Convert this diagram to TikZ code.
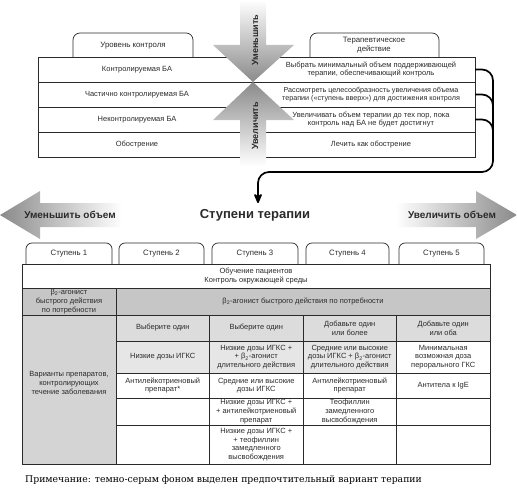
\documentclass[tikz,border=0pt]{standalone}
\usepackage{fontspec}
\setmainfont{Liberation Sans}
\newfontfamily\notefont{DejaVu Serif}
\usetikzlibrary{arrows.meta}
\definecolor{rowB}{HTML}{C6C6C6}
\definecolor{varc}{HTML}{D4D4D4}
\definecolor{hdrc}{HTML}{DCDCDC}
\definecolor{prefc}{HTML}{E6E6E6}
\definecolor{ink}{HTML}{2A2A2A}
\definecolor{shd}{HTML}{8A8A8A}
\begin{document}
\begin{tikzpicture}[x=1pt,y=-1pt,
  txt/.style={font=\fontsize{7.5}{8.7}\selectfont, align=center, inner sep=0pt, text=ink},
  ttxt/.style={font=\fontsize{7.8}{8.8}\selectfont, align=center, inner sep=0pt, text=ink},
  big/.style={font=\bfseries\fontsize{10}{11}\selectfont, inner sep=0pt, text=ink},
  grid/.style={draw=ink, line width=0.7pt},
  tabshape/.style={draw=ink, line width=0.7pt, rounded corners=7pt},
  bk/.style={draw=black, line width=1.7pt, rounded corners=11pt},
]
\useasboundingbox (0,0) rectangle (517,495);

% ---------- top table ----------
\draw[tabshape] (73,57) -- (73,33) -- (193,33) -- (193,57);
\draw[tabshape] (310,57) -- (310,33) -- (439,33) -- (439,57);
\draw[grid] (38,57) rectangle (475,157);
\foreach \yy in {82,107,132} \draw[grid] (38,\yy) -- (475,\yy);

\node[ttxt] (lvl) at (133,46) {Уровень контроля};
\node[ttxt] (act) at (374,45) {Терапевтическое\\действие};
\node[txt] (c1) at (137,69.5) {Контролируемая БА};
\node[txt] (c2) at (137,94.5) {Частично контролируемая БА};
\node[txt] (c3) at (137,119.5) {Неконтролируемая БА};
\node[txt] (c4) at (137,144.5) {Обострение};
\node[txt] (a1) at (371,69.5) {Выбрать минимальный объем поддерживающей\\терапии, обеспечивающий контроль};
\node[txt, font=\fontsize{7.2}{8.7}\selectfont] (a2) at (371,94.5) {Рассмотреть целесообразность увеличения объема\\терапии («ступень вверх») для достижения контроля};
\node[txt] (a3) at (371,119.5) {Увеличивать объем терапии до тех пор, пока\\контроль над БА не будет достигнут};
\node[txt] (a4) at (371,144.5) {Лечить как обострение};

% central arrows
\shade[top color=white, bottom color=shd]
  (240,0) -- (266,0) -- (266,45) -- (294,45) -- (253,82) -- (213,45) -- (240,45) -- cycle;
\shade[top color=shd, bottom color=white]
  (253,82) -- (294,120) -- (266,120) -- (266,166) -- (240,166) -- (240,120) -- (213,120) -- cycle;
\node[big, rotate=90, font=\bfseries\fontsize{9}{10}\selectfont] (dn) at (255,40) {Уменьшить};
\node[big, rotate=90, font=\bfseries\fontsize{9}{10}\selectfont] (upw) at (255,126) {Увеличить};

% brackets
\coordinate (r1) at (475,69.5);
\coordinate (r2) at (475,94.5);
\coordinate (r3) at (475,119.5);
\coordinate (tipend) at (258,203);
\draw[bk] (r2) -- (493,94.5) -- (493,130);
\draw[bk] (r3) -- (493,119.5) -- (493,150);
\draw[bk, -{Stealth[length=12pt,width=10pt,round]}] (r1) -- (493,69.5) -- (493,172) -- (258,172) -- (tipend);

% ---------- middle ----------
\shade[left color=shd, right color=white]
  (0,215) -- (40,191) -- (40,203) -- (122,203) -- (122,227) -- (40,227) -- (40,239) -- cycle;
\shade[left color=white, right color=shd]
  (517,215) -- (476,191) -- (476,203) -- (396,203) -- (396,227) -- (476,227) -- (476,239) -- cycle;
\node[big] (dec) at (70,215) {Уменьшить объем};
\node[big] (inc) at (452,215) {Увеличить объем};
\node[big, font=\bfseries\fontsize{13}{14}\selectfont] (steps) at (255,215) {Ступени терапии};

% ---------- step tabs ----------
\foreach \xa/\xb/\lab [count=\i] in {26/112/Ступень 1, 119/204/Ступень 2, 212/298/Ступень 3, 306/389/Ступень 4, 399/484/Ступень 5}{
  \draw[tabshape, rounded corners=6pt] (\xa,264) -- (\xa,243) -- (\xb,243) -- (\xb,264);
  \node[ttxt] (st\i) at ({(\xa+\xb)/2},254) {\lab};
}

% ---------- table ----------
\fill[rowB] (22,288) rectangle (490,315);
\fill[varc] (22,315) rectangle (116,464);
\fill[hdrc] (116,315) rectangle (490,341);
\fill[prefc] (116,341) rectangle (396.5,373);

\draw[grid] (22,264) rectangle (490,464);
\draw[grid] (22,288) -- (490,288);
\draw[grid] (22,315) -- (490,315);
\draw[grid] (116,288) -- (116,464);
\foreach \yy in {341,373,398,425} \draw[grid] (116,\yy) -- (490,\yy);
\foreach \xx in {209.5,303,396.5} \draw[grid] (\xx,315) -- (\xx,464);

\node[txt] (edu) at (256,276) {Обучение пациентов\\Контроль окружающей среды};
\node[txt] (b1) at (69,301.5) {β\textsubscript{2}-агонист\\быстрого действия\\по потребности};
\node[txt] (b2) at (303,301.5) {β\textsubscript{2}-агонист быстрого действия по потребности};
\node[txt] (var) at (69,383) {Варианты препаратов,\\контролирующих\\течение заболевания};

\node[txt] (h2) at (162.75,328) {Выберите один};
\node[txt] (h3) at (256.25,328) {Выберите один};
\node[txt] (h4) at (349.75,328) {Добавьте один\\или более};
\node[txt] (h5) at (443.25,328) {Добавьте один\\или оба};

\node[txt] (d2) at (162.75,357) {Низкие дозы ИГКС};
\node[txt] (d3) at (256.25,357) {Низкие дозы ИГКС +\\+ β\textsubscript{2}-агонист\\длительного действия};
\node[txt] (d4) at (349.75,357) {Средние или высокие\\дозы ИГКС + β\textsubscript{2}-агонист\\длительного действия};
\node[txt] (d5) at (443.25,357) {Минимальная\\возможная доза\\перорального ГКС};

\node[txt] (e2) at (162.75,385.5) {Антилейкотриеновый\\препарат*};
\node[txt] (e3) at (256.25,385.5) {Средние или высокие\\дозы ИГКС};
\node[txt] (e4) at (349.75,385.5) {Антилейкотриеновый\\препарат};
\node[txt] (e5) at (443.25,385.5) {Антитела к IgE};

\node[txt] (f3) at (256.25,411.5) {Низкие дозы ИГКС +\\+ антилейкотриеновый\\препарат};
\node[txt] (f4) at (349.75,411.5) {Теофиллин\\замедленного\\высвобождения};

\node[txt] (g3) at (256.25,444.5) {Низкие дозы ИГКС +\\+ теофиллин\\замедленного\\высвобождения};

\node[anchor=west, inner sep=0pt, font=\notefont\fontsize{9.3}{11}\selectfont] (note) at (25,479.5) {Примечание: темно-серым фоном выделен предпочтительный вариант терапии};
\end{tikzpicture}
\end{document}
